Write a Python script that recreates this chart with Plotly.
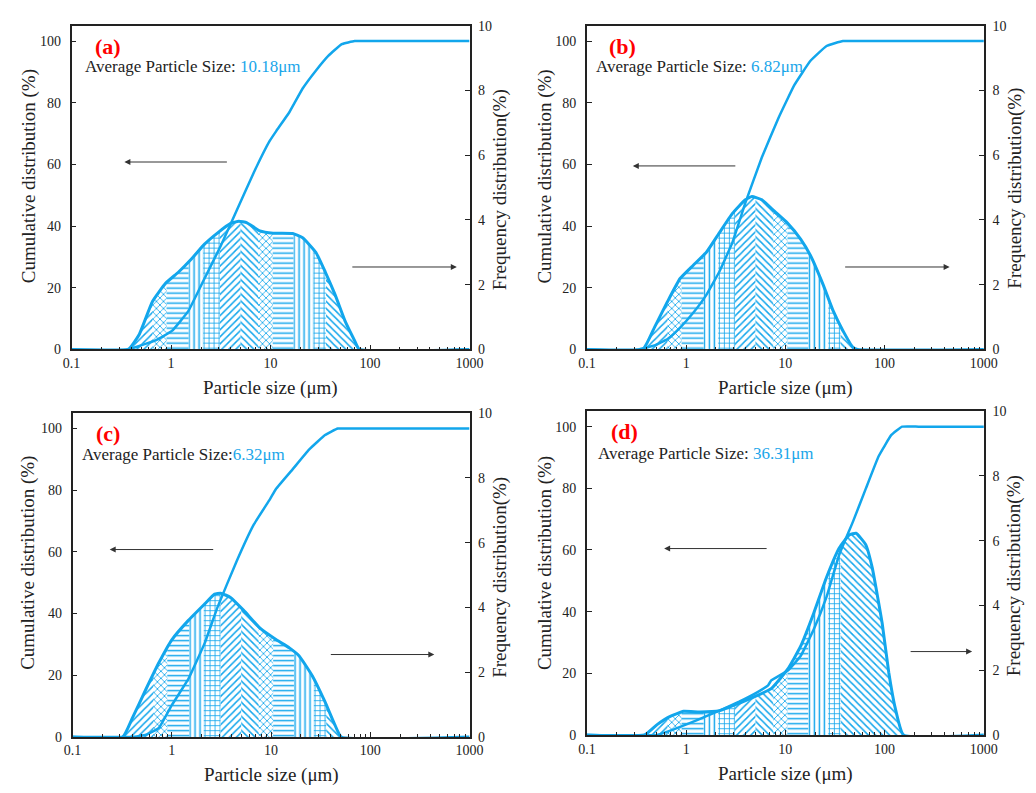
import numpy as np
import plotly.graph_objects as go

# ---------------- data ----------------
panel_labels = ["(a)", "(b)", "(c)", "(d)"]
avg_prefix = ["Average Particle Size: ", "Average Particle Size: ", "Average Particle Size:", "Average Particle Size: "]
avg_values = ["10.18μm", "6.82μm", "6.32μm", "36.31μm"]

x_ticks = [0.1, 1, 10, 100, 1000]
x_tick_text = ["0.1", "1", "10", "100", "1000"]

# (a)
cum_a_x = [0.1, 0.37, 0.5, 0.7, 1.02, 1.49, 2.17, 3.16, 4.6, 6.7, 9.8, 11.4, 15.5, 21, 28.5, 38, 52, 70, 100, 200, 500, 1000]
cum_a_y = [0, 0, 1.3, 2.9, 6, 12.4, 23, 33.6, 45.3, 57, 67.6, 70.8, 77, 84.6, 90.4, 95.2, 99, 100, 100, 100, 100, 100]
frq_a_x = [0.1, 0.37, 0.48, 0.65, 0.88, 1.19, 1.61, 2.17, 2.94, 3.97, 4.8, 5.8, 7.8, 10.6, 16.7, 21, 28.5, 35.5, 44.5, 56, 70, 78, 1000]
frq_a_y = [0, 0, 0.47, 1.48, 2.04, 2.39, 2.8, 3.25, 3.6, 3.89, 3.96, 3.91, 3.66, 3.59, 3.58, 3.45, 3.0, 2.39, 1.69, 0.88, 0.27, 0, 0]

# (b)
cum_b_x = [0.1, 0.33, 0.48, 0.65, 0.87, 1.18, 1.6, 2.16, 2.93, 3.95, 5.8, 8.5, 12.3, 17.9, 26, 38, 60, 150, 400, 1000]
cum_b_y = [0, 0, 1.3, 3.4, 7.1, 11.9, 17.7, 25.2, 34.7, 47.5, 62.3, 75, 85.7, 93.6, 98.4, 100, 100, 100, 100, 100]
frq_b_x = [0.1, 0.366, 0.48, 0.65, 0.87, 1.18, 1.6, 2.16, 2.93, 3.95, 4.6, 5.8, 7.8, 10.5, 14.3, 17.9, 24, 30.4, 38, 47.8, 53.5, 1000]
frq_b_y = [0, 0, 0.68, 1.48, 2.19, 2.6, 3.0, 3.6, 4.2, 4.62, 4.72, 4.62, 4.26, 3.9, 3.4, 2.9, 2.0, 1.18, 0.58, 0.07, 0, 0]

# (c)
cum_c_x = [0.1, 0.4, 0.55, 0.74, 1.0, 1.47, 2.15, 2.89, 4.5, 6.65, 9.8, 11.2, 16.4, 24, 35, 47, 70, 150, 400, 1000]
cum_c_y = [0, 0, 0.7, 2.9, 10.3, 18.8, 30.5, 42.1, 57, 68.7, 77.2, 80.4, 86.7, 93.1, 97.9, 100, 100, 100, 100, 100]
frq_c_x = [0.1, 0.32, 0.4, 0.55, 0.74, 1.0, 1.47, 2.15, 2.7, 3.1, 3.9, 5.3, 7.8, 11.3, 15.3, 19.2, 26, 35, 44, 51, 1000]
frq_c_y = [0, 0, 0.58, 1.48, 2.29, 3.0, 3.6, 4.11, 4.41, 4.44, 4.31, 3.91, 3.35, 3.0, 2.75, 2.5, 1.89, 1.08, 0.37, 0, 0]

# (d)
cum_d_x = [0.1, 0.51, 0.75, 1.1, 1.6, 2.17, 3.42, 5.3, 6.7, 7.2, 10.6, 14.3, 19.3, 26, 35, 48, 64.5, 87, 117, 150, 220, 500, 1000]
cum_d_y = [0, 0, 1.8, 3.9, 6.1, 7.9, 10.8, 14, 16.1, 17.7, 20.9, 25.7, 34.2, 44.8, 58.6, 69.2, 79.8, 90.4, 97.3, 100, 100, 100, 100]
frq_d_x = [0.1, 0.38, 0.51, 0.7, 0.94, 1.37, 2.17, 3.42, 5.3, 7.2, 10.6, 14.3, 19.3, 26, 35, 44, 51.5, 64.5, 75, 94.5, 110, 128, 155, 1000]
frq_d_y = [0, 0, 0.32, 0.58, 0.73, 0.71, 0.75, 0.98, 1.23, 1.43, 2.04, 2.75, 3.76, 4.87, 5.78, 6.18, 6.23, 5.88, 5.17, 3.45, 1.94, 0.83, 0, 0]

# hatch bands (particle size limits) and their hatch styles
band_edges = [0.3, 0.65, 0.9, 1.5, 2.1, 3.1, 5.0, 7.5, 10.5, 17, 27, 36, 200]
band_shapes = ["/", "x", "-", "|", "+", "/", "\\", "x", "-", "|", "+", "\\"]

cum_x = [cum_a_x, cum_b_x, cum_c_x, cum_d_x]
cum_y = [cum_a_y, cum_b_y, cum_c_y, cum_d_y]
frq_x = [frq_a_x, frq_b_x, frq_c_x, frq_d_x]
frq_y = [frq_a_y, frq_b_y, frq_c_y, frq_d_y]

# ---------------- style ----------------
W, H = 1036, 793
BLUE = "#12A6EC"
VAL = "#1AA6EA"
DARK = "#222222"
FONT = "Liberation Serif"

# panel plot areas in pixels: (left, right, top, bottom)
boxes = [(64, 471, 19, 349), (591, 997, 19, 349), (65, 471, 414, 744), (591, 997, 412, 742)]
minor_vals = [m * 10.0 ** e for e in range(-1, 3) for m in range(2, 10)]


def px(x):
    return x / W


def py(y):
    return 1 - y / H


fig = go.Figure()
layout = dict(
    width=W, height=H, margin=dict(l=0, r=0, t=0, b=0),
    paper_bgcolor="white", plot_bgcolor="white", showlegend=False,
    font=dict(family=FONT, color=DARK),
)
annotations = []

for i in range(4):
    xa = f"x{i + 1}" if i else "x"
    yf = f"y{2 * i + 1}" if i else "y"
    yc = f"y{2 * i + 2}"
    l, r, t, b = boxes[i]
    xkey = "xaxis" if i == 0 else f"xaxis{i + 1}"
    yfkey = "yaxis" if i == 0 else f"yaxis{2 * i + 1}"
    yckey = f"yaxis{2 * i + 2}"

    layout[xkey] = dict(
        type="log", range=[-1, 3], domain=[px(l), px(r)], anchor=yf,
        tickvals=x_ticks, ticktext=x_tick_text, ticks="inside", ticklen=5,
        tickcolor=DARK, tickwidth=1.2, showline=True, linecolor=DARK, linewidth=1.5,
        mirror=True, showgrid=False, zeroline=False,
        tickfont=dict(family=FONT, size=14, color=DARK),
        minor=dict(tickmode="array", tickvals=minor_vals, ticks="inside", ticklen=3,
                   tickcolor=DARK, tickwidth=1, showgrid=False),
    )
    layout[yfkey] = dict(
        range=[0, 10], domain=[py(b), py(t)], anchor=xa, side="right",
        dtick=2, ticks="inside", ticklen=5, tickcolor=DARK, tickwidth=1.2,
        showline=True, linecolor=DARK, linewidth=1.5, showgrid=False, zeroline=False,
        tickfont=dict(family=FONT, size=14, color=DARK), ticklabelstandoff=4,
    )
    layout[yckey] = dict(
        range=[0, 105], anchor=xa, overlaying=yf, side="left",
        tickvals=[0, 20, 40, 60, 80, 100], ticks="inside", ticklen=5, tickcolor=DARK,
        tickwidth=1.2, showline=True, linecolor=DARK, linewidth=1.5, showgrid=False,
        zeroline=False, tickfont=dict(family=FONT, size=14, color=DARK), ticklabelstandoff=6,
    )

    fx = np.array(frq_x[i], dtype=float)
    fy = np.array(frq_y[i], dtype=float)
    lx = np.log10(fx)
    # hatched bands under the frequency curve
    for k, shape in enumerate(band_shapes):
        lo, hi = band_edges[k], band_edges[k + 1]
        inner = (fx > lo) & (fx < hi)
        bx = np.concatenate([[lo], fx[inner], [hi]])
        by = np.interp(np.log10(bx), lx, fy)
        fig.add_trace(go.Scatter(
            x=bx, y=by, xaxis=xa, yaxis=yf, mode="lines", line=dict(width=0),
            fill="tozeroy", fillcolor="rgba(0,0,0,0)",
            fillpattern=dict(shape=shape, fgcolor=BLUE, bgcolor="rgba(255,255,255,0)",
                             size=5, solidity=0.3, fillmode="replace"),
            hoverinfo="skip",
        ))
    # frequency curve
    fig.add_trace(go.Scatter(
        x=fx, y=fy, xaxis=xa, yaxis=yf, mode="lines",
        line=dict(color=BLUE, width=3, shape="spline", smoothing=0.4),
    ))
    # cumulative curve
    fig.add_trace(go.Scatter(
        x=cum_x[i], y=cum_y[i], xaxis=xa, yaxis=yc, mode="lines",
        line=dict(color=BLUE, width=2.5, shape="spline", smoothing=0.3),
    ))

# ---------------- texts ----------------
label_pos = [(101, 40), (627, 40), (101, 435), (629, 433)]
avg_pos = [(76, 61), (598, 61), (73, 456), (600, 455)]
ytitle_l = [(20, 173), (548, 173), (20, 567), (548, 567)]
ytitle_r = [(503, 186), (1028, 185), (502, 581), (1028, 580)]
xtitle = [(267, 388), (794, 388), (268, 783), (794, 782)]
arrow_left = [((118, 158), 104), ((638, 162), 104), ((103, 553), 105), ((670, 552), 104)]
arrow_right = [((458, 265), -106), ((962, 265), -106), ((435, 660), -105), ((985, 657), -63)]

for i in range(4):
    annotations.append(dict(
        x=px(label_pos[i][0]), y=py(label_pos[i][1]), xref="paper", yref="paper",
        text=f"<b>{panel_labels[i]}</b>", showarrow=False,
        font=dict(family=FONT, size=22, color="#FF0000"), xanchor="center", yanchor="middle",
    ))
    annotations.append(dict(
        x=px(avg_pos[i][0]), y=py(avg_pos[i][1]), xref="paper", yref="paper",
        text=f"{avg_prefix[i]}<span style='color:{VAL}'>{avg_values[i]}</span>",
        showarrow=False, font=dict(family=FONT, size=17, color=DARK),
        xanchor="left", yanchor="middle",
    ))
    annotations.append(dict(
        x=px(ytitle_l[i][0]), y=py(ytitle_l[i][1]), xref="paper", yref="paper",
        text="Cumulative distribution (%)", textangle=-90, showarrow=False,
        font=dict(family=FONT, size=19, color=DARK), xanchor="center", yanchor="middle",
    ))
    annotations.append(dict(
        x=px(ytitle_r[i][0]), y=py(ytitle_r[i][1]), xref="paper", yref="paper",
        text="Frequency distribution(%)", textangle=-90, showarrow=False,
        font=dict(family=FONT, size=19, color=DARK), xanchor="center", yanchor="middle",
    ))
    annotations.append(dict(
        x=px(xtitle[i][0]), y=py(xtitle[i][1]), xref="paper", yref="paper",
        text="Particle size (μm)", showarrow=False,
        font=dict(family=FONT, size=19, color=DARK), xanchor="center", yanchor="middle",
    ))
    for (hx, hy), dx in (arrow_left[i], arrow_right[i]):
        annotations.append(dict(
            x=px(hx), y=py(hy), xref="paper", yref="paper", ax=dx, ay=0,
            text="", showarrow=True, arrowhead=2, arrowsize=1.2, arrowwidth=1,
            arrowcolor="#333333", standoff=0, startstandoff=0,
        ))

layout["annotations"] = annotations
fig.update_layout(**layout)
fig.write_html("out.html")
